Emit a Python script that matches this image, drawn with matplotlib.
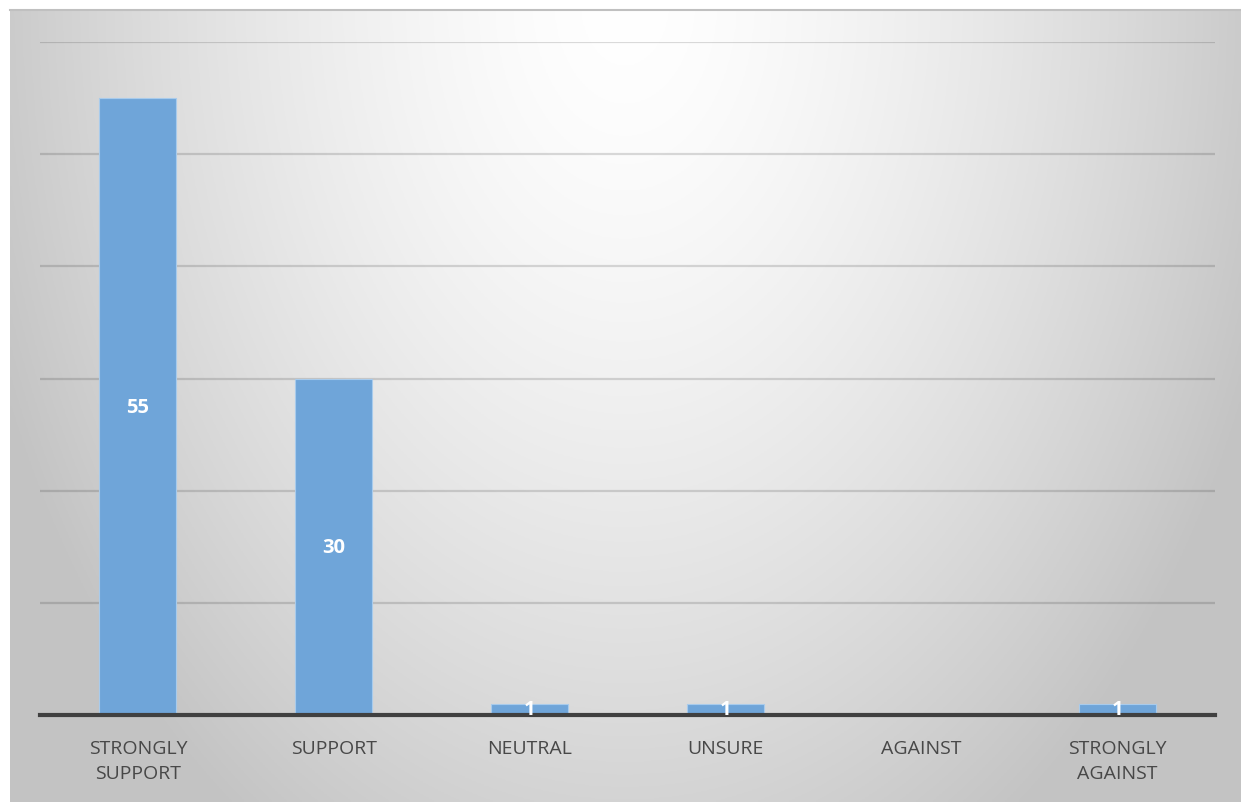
import numpy as np
import matplotlib
matplotlib.use("Agg")
import matplotlib.pyplot as plt
from matplotlib.lines import Line2D

categories = ["STRONGLY\nSUPPORT", "SUPPORT", "NEUTRAL", "UNSURE", "AGAINST", "STRONGLY\nAGAINST"]
values = [55, 30, 1, 1, 0, 1]
y_ticks = [0, 10, 20, 30, 40, 50, 60]

W, H = 1241, 803
fig = plt.figure(figsize=(W / 100, H / 100), dpi=100)
fig.patch.set_facecolor("white")

# background gradient panel
x0, ytop = 10, 11
bg = fig.add_axes([x0 / W, 0, 1 - x0 / W, 1 - ytop / H])
bg.set_axis_off()
gx = np.linspace(x0, W, 400)
gy = np.linspace(ytop, H, 300)
X, Y = np.meshgrid(gx, gy)
r = np.sqrt(((X - 625) / 620.0) ** 2 + ((Y - 0) / 910.0) ** 2)
v = 255 - 52 * np.clip(r, 0, 1.1) ** 1.5
v = np.clip(v, 0, 255) / 255.0
img = np.dstack([v, v, v])
bg.imshow(img, extent=[0, 1, 0, 1], aspect="auto", origin="upper")
bg.set_xlim(0, 1)
bg.set_ylim(0, 1)
fig.add_artist(Line2D([x0 / W, 1], [1 - ytop / H, 1 - ytop / H], transform=fig.transFigure,
                      color="#c0c0c0", lw=1.5))

ax = fig.add_axes([40 / W, 87 / H, 1175 / W, (716 - 43) / H])
ax.patch.set_alpha(0)
x = np.arange(len(categories))
bars = ax.bar(x, values, width=0.393, color="#6fa5d9", edgecolor="#a8cbec", linewidth=0.8, zorder=3)
ax.set_xlim(-0.5, len(categories) - 0.5)
ax.set_ylim(0, 60)
ax.set_yticks(y_ticks)
ax.yaxis.grid(True, color="black", alpha=0.14, lw=1.6, zorder=0)
ax.set_axisbelow(True)
for s in ["top", "right", "left"]:
    ax.spines[s].set_visible(False)
ax.spines["bottom"].set_color("#404040")
ax.spines["bottom"].set_linewidth(3)
ax.spines["bottom"].set_zorder(4)
ax.tick_params(axis="y", left=False, labelleft=False)
ax.tick_params(axis="x", length=0, pad=17)
ax.set_xticks(x)
ax.set_xticklabels(categories, fontsize=14, color="#484848", family="Open Sans", linespacing=1.5)

for xi, val in zip(x, values):
    if val > 0:
        ax.text(xi, val / 2, str(val), ha="center", va="center", color="white",
                fontsize=14.5, fontweight="bold", family="Open Sans", zorder=5)

fig.savefig("out.png", dpi=100)
